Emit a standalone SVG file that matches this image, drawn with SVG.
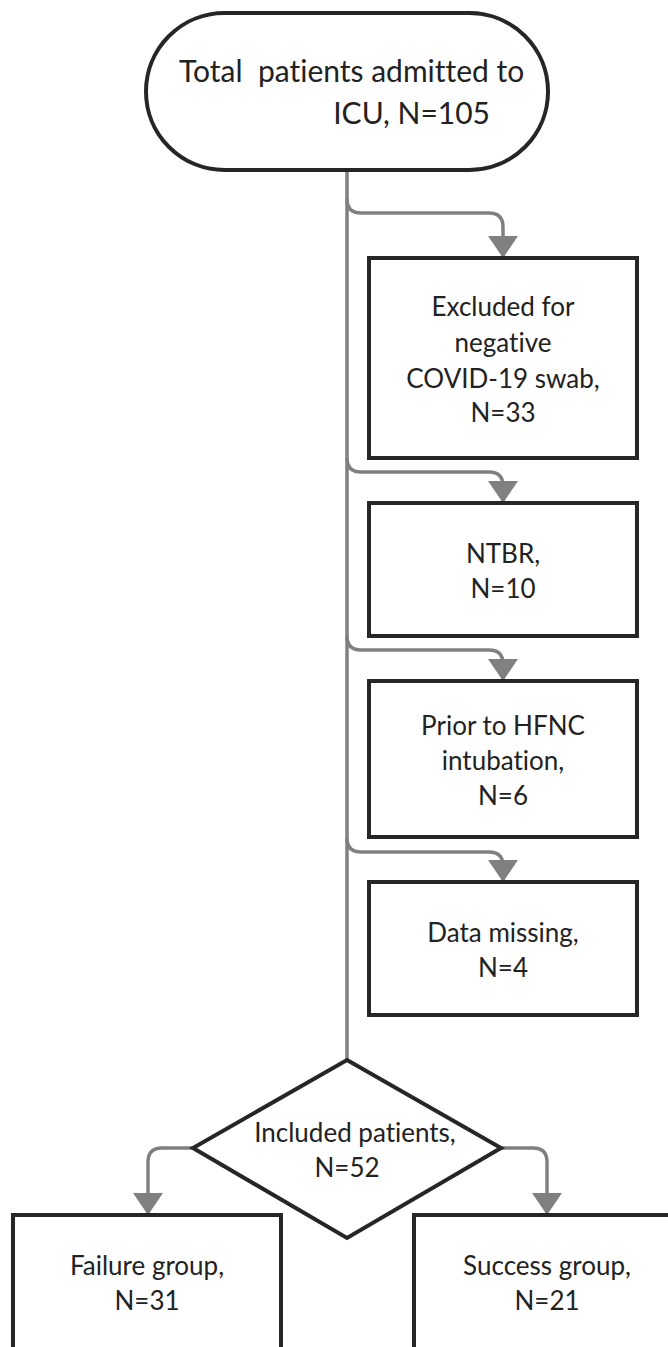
<svg xmlns="http://www.w3.org/2000/svg" width="668" height="1347" viewBox="0 0 668 1347">
<defs>
<style>
.node{fill:#fff;stroke:#262626;stroke-width:4}
.conn{fill:none;stroke:#808080;stroke-width:3.5}
text{font-family:Lato,"Open Sans","Liberation Sans",sans-serif;fill:#222;font-size:26px;text-anchor:middle;font-variant-ligatures:none;font-feature-settings:"liga" 0}
.big{font-size:30px}
</style>
<marker id="arr" viewBox="0 0 22 30" refX="22" refY="15" markerWidth="22" markerHeight="30" orient="auto" markerUnits="userSpaceOnUse">
<path d="M0,0 L22,15 L0,30 z" fill="#808080"/>
</marker>
</defs>
<rect width="668" height="1347" fill="#fff"/>
<g id="connectors">
<path class="conn" d="M347,170 L347,1060"/>
<path class="conn" marker-end="url(#arr)" d="M347,199 Q347,213 361,213 L489,213 Q503,213 503,227 L503,258"/>
<path class="conn" marker-end="url(#arr)" d="M347,458 Q347,472 361,472 L489,472 Q503,472 503,486 L503,503"/>
<path class="conn" marker-end="url(#arr)" d="M347,636 Q347,650 361,650 L489,650 Q503,650 503,664 L503,681"/>
<path class="conn" marker-end="url(#arr)" d="M347,838 Q347,852 361,852 L489,852 Q503,852 503,866 L503,882"/>
<path class="conn" marker-end="url(#arr)" d="M193,1148 L162,1148 Q148,1148 148,1162 L148,1215"/>
<path class="conn" marker-end="url(#arr)" d="M501,1148 L533,1148 Q547,1148 547,1162 L547,1215"/>
</g>
<g id="start">
<rect class="node" x="146" y="13" width="402" height="157" rx="78.5"/>
<text class="big" x="179" y="82" style="text-anchor:start" xml:space="preserve">Total  patients admitted to</text>
<text class="big" x="490" y="124" style="text-anchor:end">ICU, N=105</text>
</g>
<g id="excluded-negative">
<rect class="node" x="369" y="258" width="268" height="200"/>
<text x="503" y="316">Excluded for</text>
<text x="503" y="352">negative</text>
<text x="503" y="388">COVID-19 swab,</text>
<text x="503" y="422">N=33</text>
</g>
<g id="ntbr">
<rect class="node" x="369" y="503" width="268" height="133"/>
<text x="503" y="563">NTBR,</text>
<text x="503" y="598">N=10</text>
</g>
<g id="prior-hfnc">
<rect class="node" x="369" y="681" width="268" height="156"/>
<text x="503" y="735">Prior to HFNC</text>
<text x="503" y="770">intubation,</text>
<text x="503" y="805">N=6</text>
</g>
<g id="data-missing">
<rect class="node" x="369" y="882" width="268" height="133"/>
<text x="503" y="942">Data missing,</text>
<text x="503" y="977">N=4</text>
</g>
<g id="included">
<polygon class="node" points="347,1060 501,1148 347,1238 193,1148"/>
<text x="355" y="1142">Included patients,</text>
<text x="347" y="1177">N=52</text>
</g>
<g id="failure">
<rect class="node" x="13" y="1215" width="268" height="160"/>
<text x="147" y="1275">Failure group,</text>
<text x="147" y="1310">N=31</text>
</g>
<g id="success">
<rect class="node" x="414" y="1215" width="280" height="160"/>
<text x="547" y="1275">Success group,</text>
<text x="547" y="1310">N=21</text>
</g>
</svg>
